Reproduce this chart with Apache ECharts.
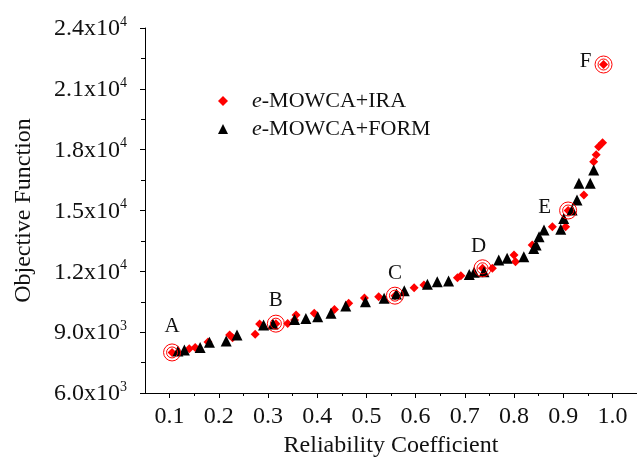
<!DOCTYPE html>
<html>
<head>
<meta charset="utf-8">
<script src="https://cdn.jsdelivr.net/npm/echarts@6/dist/echarts.min.js"></script>
<style>html,body{margin:0;padding:0;background:#fff;}#c{width:637px;height:463px;}</style>
</head>
<body>
<div id="c"></div>
<script>
// ---- data ----
const iraX = [0.105,0.140,0.152,0.178,0.222,0.228,0.274,0.283,0.316,0.340,0.354,0.357,0.394,0.435,0.464,0.496,0.525,0.558,0.597,0.617,0.685,0.692,0.736,0.756,0.800,0.803,0.837,0.878,0.905,0.910,0.942,0.962,0.967,0.972,0.980,0.982];
const iraY = [8000,8180,8250,8520,8860,8720,8900,9400,9420,9430,9600,9850,9930,10120,10420,10680,10750,10800,11190,11320,11680,11780,12150,12150,12800,12470,13300,14200,14200,15000,15760,17400,17750,18150,18340,22200];
const formX = [0.117,0.130,0.162,0.181,0.215,0.237,0.291,0.310,0.354,0.377,0.401,0.428,0.458,0.498,0.536,0.561,0.577,0.624,0.644,0.667,0.709,0.719,0.739,0.769,0.786,0.820,0.840,0.845,0.851,0.861,0.895,0.901,0.918,0.928,0.932,0.955,0.962];
const formY = [8070,8120,8250,8500,8560,8860,9350,9400,9630,9680,9760,9930,10290,10500,10670,10880,11040,11360,11490,11520,11850,11950,11980,12560,12640,12720,13130,13300,13700,14040,14070,14610,15020,15520,16340,16340,17000];
const markNames = ['A','B','C','D','E','F'];
const markX = [0.105,0.316,0.558,0.736,0.910,0.982];
const markY = [8000,9420,10800,12150,15000,22200];
const xTickValues = [0.1,0.2,0.3,0.4,0.5,0.6,0.7,0.8,0.9,1.0];
const xTickLabels = ['0.1','0.2','0.3','0.4','0.5','0.6','0.7','0.8','0.9','1.0'];
const xMinorTicks = [0.15,0.25,0.35,0.45,0.55,0.65,0.75,0.85,0.95,1.05];
const yTickMantissa = ['6.0','9.0','1.2','1.5','1.8','2.1','2.4'];
const yTickExponent = ['3','3','4','4','4','4','4'];
const seriesNames = ['e-MOWCA+IRA','e-MOWCA+FORM'];

// ---- chart ----
const FONT = 'Liberation Serif';
const FS = 24;
const labelStyle = {
  A:{position:'top',distance:6,offset:[0,0]},
  B:{position:'top',distance:4,offset:[0,0]},
  C:{position:'top',distance:3,offset:[0,0]},
  D:{position:'top',distance:2,offset:[-4,0]},
  E:{position:'left',distance:8,offset:[0,-3]},
  F:{position:'left',distance:3,offset:[0,-3]}
};
const chart = echarts.init(document.getElementById('c'));
const pair = (xs, ys) => xs.map((x,i)=>[x, ys[i]]);
const option = {
  animation:false,
  backgroundColor:'#fff',
  grid:{left:145,top:28,width:493,height:365,containLabel:false},
  legend:{
    data:seriesNames,
    orient:'vertical',
    left:213, top:85,
    itemWidth:10, itemHeight:10, itemGap:6,
    textStyle:{fontFamily:FONT,fontSize:22,color:'#111',lineHeight:20,padding:[0,0,0,19],
      rich:{i:{fontFamily:FONT,fontSize:22,fontStyle:'italic',color:'#111'},n:{fontFamily:FONT,fontSize:22,color:'#111'}}},
    formatter: name => '{i|' + name.charAt(0) + '}{n|' + name.slice(1) + '}'
  },
  xAxis:[{
    type:'value', min:0.05, max:1.05, position:'bottom',
    name:'Reliability Coefficient', nameLocation:'middle', nameGap:36,
    nameTextStyle:{fontFamily:FONT,fontSize:FS,color:'#111'},
    axisLine:{show:true,onZero:false,lineStyle:{color:'#000',width:1}},
    axisTick:{show:true,length:5,customValues:xTickValues,lineStyle:{color:'#000'}},
    axisLabel:{show:true,customValues:xTickValues,margin:12,fontFamily:FONT,fontSize:FS,color:'#111',
      formatter: v => { const i = xTickValues.findIndex(t=>Math.abs(t-v)<1e-6); return i>=0 ? xTickLabels[i] : ''; }},
    splitLine:{show:false}
  },{
    type:'value', min:0.05, max:1.05, position:'bottom',
    axisLine:{show:false,onZero:false},
    axisTick:{show:true,length:3,customValues:xMinorTicks,lineStyle:{color:'#000'}},
    axisLabel:{show:false},
    splitLine:{show:false}
  }],
  yAxis:{
    type:'value', min:6000, max:24000, interval:3000,
    name:'Objective Function', nameLocation:'middle', nameGap:109, nameRotate:90,
    nameTextStyle:{fontFamily:FONT,fontSize:FS,color:'#111'},
    axisLine:{show:true,onZero:false,lineStyle:{color:'#000',width:1}},
    axisTick:{show:true,length:5,lineStyle:{color:'#000'}},
    minorTick:{show:true,splitNumber:2,length:4,lineStyle:{color:'#000'}},
    axisLabel:{margin:18,fontFamily:FONT,fontSize:FS,color:'#111',
      formatter:(v)=>{ const i = Math.round((v-6000)/3000); return '{b|' + yTickMantissa[i] + 'x10}{s|' + yTickExponent[i] + '}'; },
      rich:{b:{fontFamily:FONT,fontSize:FS,color:'#111',lineHeight:26,verticalAlign:'bottom'},
            s:{fontFamily:FONT,fontSize:14,color:'#111',verticalAlign:'top',lineHeight:26}}},
    splitLine:{show:false}
  },
  series:[
    {name:seriesNames[0],type:'scatter',symbol:'diamond',symbolSize:9,
     itemStyle:{color:'#ff0000',opacity:1},data:pair(iraX,iraY),z:2},
    {name:seriesNames[1],type:'scatter',symbol:'triangle',symbolSize:11,
     itemStyle:{color:'#000000',opacity:1},data:pair(formX,formY),z:3},
    {name:'ringOuter',type:'scatter',symbol:'circle',symbolSize:17,silent:true,
     itemStyle:{color:'rgba(0,0,0,0)',borderColor:'#ff0000',borderWidth:1,opacity:1},z:4,
     data:markX.map((x,i)=>{const s=labelStyle[markNames[i]];return {value:[x,markY[i]],name:markNames[i],
       label:{show:true,formatter:markNames[i],position:s.position,distance:s.distance,offset:s.offset,
       fontFamily:FONT,fontSize:21,color:'#111'}};})},
    {name:'ringInner',type:'scatter',symbol:'circle',symbolSize:11,silent:true,
     itemStyle:{color:'rgba(0,0,0,0)',borderColor:'#ff0000',borderWidth:1,opacity:1},z:4,
     data:pair(markX,markY)}
  ]
};
chart.setOption(option);
</script>
</body>
</html>
